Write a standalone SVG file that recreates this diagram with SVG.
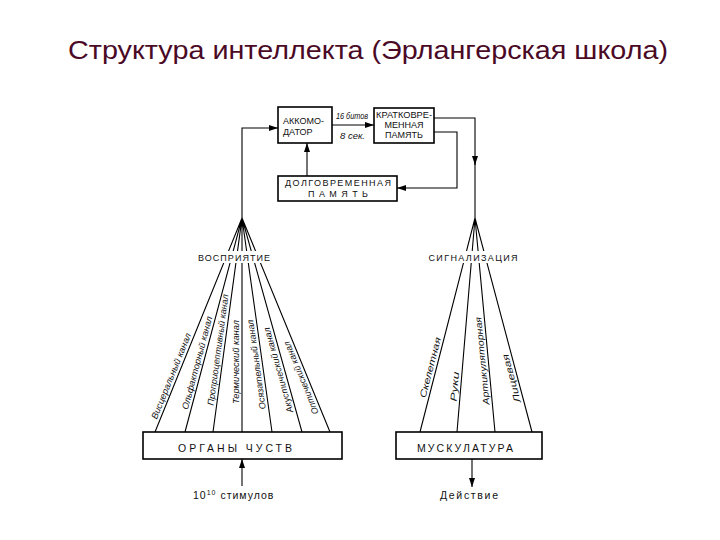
<svg xmlns="http://www.w3.org/2000/svg" width="720" height="540" viewBox="0 0 720 540">
<style>
.box{fill:#fff;stroke:#000;stroke-width:1.6}
.ln{fill:none;stroke:#000;stroke-width:1.1}
.t{font-family:"Liberation Sans",Arial,sans-serif;font-size:9px;fill:#111}
.c{font-family:"Liberation Sans",Arial,sans-serif;font-size:9px;font-style:italic;fill:#111}
.b{font-family:"Liberation Sans",Arial,sans-serif;font-size:10.5px;fill:#111}
</style>
<defs>
<marker id="ah" markerWidth="9" markerHeight="6" refX="9" refY="3" orient="auto" markerUnits="userSpaceOnUse">
<path d="M0,0 L9,3 L0,6 Z" fill="#000"/>
</marker>
</defs>
<rect width="720" height="540" fill="#fff"/>
<text x="68" y="59" font-family="'Comic Sans MS','Liberation Sans',sans-serif" font-size="26" fill="#4a0a26" textLength="600" lengthAdjust="spacingAndGlyphs">Структура интеллекта (Эрлангерская школа)</text>

<g id="connectors">
<path class="ln" d="M242,218 V128 H278" marker-end="url(#ah)"/>
<path class="ln" d="M332,125 H374" marker-end="url(#ah)"/>
<path class="ln" d="M434,118 H475 V165" marker-end="url(#ah)"/>
<path class="ln" d="M475,160 V218"/>
<path class="ln" d="M434,132 H457 V188 H397" marker-end="url(#ah)"/>
<path class="ln" d="M307,176 V143" marker-end="url(#ah)"/>
<path class="ln" d="M242,486 V459" marker-end="url(#ah)"/>
<path class="ln" d="M472,459 V487" marker-end="url(#ah)"/>
<g id="fan-left">
<path class="ln" d="M242,218 L155,432 M242,218 L185,432 M242,218 L213,432 M242,218 L242,432 M242,218 L272,432 M242,218 L302,432 M242,218 L330,432"/>
</g>
<g id="fan-right">
<path class="ln" d="M475,218 L420,432 M475,218 L457,432 M475,218 L495,432 M475,218 L532,432"/>
</g>
</g>

<g id="node-accom">
<rect class="box" x="278" y="107" width="54" height="36"/>
<text class="t" x="283" y="124">АККОМО-</text>
<text class="t" x="283" y="135">ДАТОР</text>
</g>
<g id="label-rate">
<text class="c" x="336" y="119" textLength="32" lengthAdjust="spacingAndGlyphs">16 битов</text>
<text class="c" x="340" y="139" textLength="25" lengthAdjust="spacingAndGlyphs">8 сек.</text>
</g>
<g id="node-stm">
<rect class="box" x="374" y="108" width="60" height="35"/>
<text class="t" x="404" y="118" text-anchor="middle" textLength="56" lengthAdjust="spacingAndGlyphs">КРАТКОВРЕ-</text>
<text class="t" x="404" y="128" text-anchor="middle">МЕННАЯ</text>
<text class="t" x="404" y="138" text-anchor="middle">ПАМЯТЬ</text>
</g>
<g id="node-ltm">
<rect class="box" x="278" y="176" width="119" height="25"/>
<text class="t" x="338" y="186" text-anchor="middle" textLength="106">ДОЛГОВРЕМЕННАЯ</text>
<text class="t" x="338" y="197" text-anchor="middle" textLength="60">ПАМЯТЬ</text>
</g>

<g id="node-perception">
<rect x="197" y="251" width="74" height="12" fill="#fff"/>
<text class="t" x="234" y="261" text-anchor="middle" textLength="72">ВОСПРИЯТИЕ</text>
</g>
<g id="node-signal">
<rect x="427" y="251" width="92" height="12" fill="#fff"/>
<text class="t" x="473" y="261" text-anchor="middle" textLength="89">СИГНАЛИЗАЦИЯ</text>
</g>

<g id="channels-left">
<text class="c" transform="translate(155,432) rotate(-67.9)" x="12" y="-3" textLength="92" lengthAdjust="spacingAndGlyphs">Висцеральный канал</text>
<text class="c" transform="translate(185,432) rotate(-75.1)" x="22" y="-3" textLength="96" lengthAdjust="spacingAndGlyphs">Ольфакторный канал</text>
<text class="c" transform="translate(213,432) rotate(-82.3)" x="26" y="-3" textLength="112" lengthAdjust="spacingAndGlyphs">Проприоцептивный канал</text>
<text class="c" transform="translate(242,432) rotate(-90)" x="28" y="-3" textLength="84" lengthAdjust="spacingAndGlyphs">Термический канал</text>
<text class="c" transform="translate(272,432) rotate(-98)" x="24" y="-3" textLength="90" lengthAdjust="spacingAndGlyphs">Осязательный канал</text>
<text class="c" transform="translate(302,432) rotate(-105.7)" x="22" y="-3" textLength="88" lengthAdjust="spacingAndGlyphs">Акустический канал</text>
<text class="c" transform="translate(330,432) rotate(-112.4)" x="22" y="-3" textLength="78" lengthAdjust="spacingAndGlyphs">Оптический канал</text>
</g>
<g id="channels-right">
<text class="c" transform="translate(420,432) rotate(-75.6)" x="34" y="-3" textLength="62" lengthAdjust="spacingAndGlyphs">Скелетная</text>
<text class="c" transform="translate(457,432) rotate(-85.2)" x="30" y="-3" textLength="30" lengthAdjust="spacingAndGlyphs">Руки</text>
<text class="c" transform="translate(495,432) rotate(-95.3)" x="28" y="-3" textLength="88" lengthAdjust="spacingAndGlyphs">Артикуляторная</text>
<text class="c" transform="translate(532,432) rotate(-104.9)" x="32" y="-3" textLength="50" lengthAdjust="spacingAndGlyphs">Лицевая</text>
</g>

<g id="node-senses">
<rect class="box" x="143" y="432" width="199" height="27"/>
<text class="b" x="235" y="452" text-anchor="middle" textLength="114">ОРГАНЫ ЧУСТВ</text>
</g>
<g id="node-muscles">
<rect class="box" x="396" y="432" width="146" height="27"/>
<text class="b" x="465" y="452" text-anchor="middle" textLength="96">МУСКУЛАТУРА</text>
</g>
<g id="label-stimuli">
<text class="b" x="193" y="499" letter-spacing="1">10<tspan font-size="7" dy="-4">10</tspan><tspan dy="4"> стимулов</tspan></text>
</g>
<g id="label-action">
<text class="b" x="469" y="499" text-anchor="middle" textLength="58">Действие</text>
</g>
</svg>
